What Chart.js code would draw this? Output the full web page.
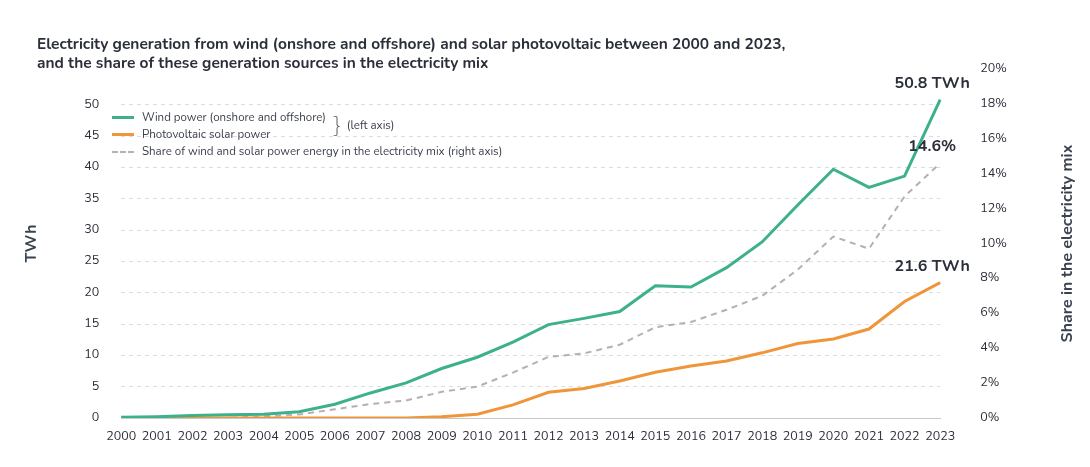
<!DOCTYPE html>
<html><head><meta charset="utf-8">
<script src="https://cdn.jsdelivr.net/npm/chart.js@4"></script>
<style>
body{margin:0;background:#fff;font-family:"Nunito","Lato","Open Sans",sans-serif;}
#wrap{position:relative;width:1090px;height:467px;}
#title{position:absolute;left:37px;top:34px;font-size:15.5px;font-weight:bold;color:#2b2f3a;line-height:19px;}
#legend{position:absolute;left:112px;top:109px;font-size:11.5px;color:#3a3f4b;line-height:17px;}
.li{display:flex;align-items:center;height:17px}
.sw{display:inline-block;width:22px;margin-right:8px;border-top:3px solid}
</style></head><body>
<div id="wrap">
<canvas id="c" width="1090" height="467"></canvas>
<div id="title">Electricity generation from wind (onshore and offshore) and solar photovoltaic between 2000 and 2023,<br>and the share of these generation sources in the electricity mix</div>
<div id="legend">
<div class="li"><span class="sw" style="border-color:#3db08e"></span>Wind power (onshore and offshore)<span style="font-size:22px;margin-left:8px;margin-top:16px;color:#555;font-weight:200">}</span><span style="margin-left:6px;margin-top:16px">(left axis)</span></div>
<div class="li"><span class="sw" style="border-color:#f0963a"></span>Photovoltaic solar power</div>
<div class="li"><span class="sw" style="border-top:2px dashed #b8aeb3"></span>Share of wind and solar power energy in the electricity mix (right axis)</div>
</div>
</div>
<script>
const years=["2000","2001","2002","2003","2004","2005","2006","2007","2008","2009","2010","2011","2012","2013","2014","2015","2016","2017","2018","2019","2020","2021","2022","2023"];
const wind=[0.1,0.2,0.4,0.5,0.6,1.0,2.2,4.0,5.6,7.9,9.7,12.1,14.9,15.9,17.0,21.1,20.9,24.0,28.1,34.0,39.7,36.8,38.6,50.8];
const solar=[0,0,0,0,0,0,0,0,0,0.2,0.6,2.1,4.1,4.7,5.9,7.3,8.3,9.1,10.4,11.9,12.6,14.2,18.6,21.6];
const share=[0,0,0,0,0.1,0.2,0.5,0.8,1.0,1.5,1.8,2.6,3.5,3.7,4.2,5.2,5.5,6.2,7.0,8.5,10.4,9.7,12.7,14.6];
const leftTicks=[0,5,10,15,20,25,30,35,40,45,50];
const FONT="'Nunito','Lato','Open Sans',sans-serif";
const labels={id:'lbl',afterDatasetsDraw(ch){const c=ch.ctx;c.save();c.font="bold 16px "+FONT;c.fillStyle="#2b2f3a";c.textAlign='center';
 const items=[[0,wind.length-1,wind[wind.length-1].toFixed(1)+' TWh',-12],[1,solar.length-1,solar[solar.length-1].toFixed(1)+' TWh',-12],[2,share.length-1,share[share.length-1].toFixed(1)+'%',-12]];
 for(const [d,i,t,dy] of items){const p=ch.getDatasetMeta(d).data[i];c.fillText(t,p.x-8,p.y+dy);}
 const a=ch.chartArea;c.translate(1068,(a.top+a.bottom)/2);c.rotate(-Math.PI/2);c.fillStyle='#3a4350';c.textBaseline='middle';c.fillText('Share in the electricity mix',0,0);
 c.restore();}};
new Chart(document.getElementById('c'),{type:'line',
data:{labels:years,datasets:[
{data:wind,borderColor:'#3db08e',borderWidth:3,pointRadius:0,tension:0,yAxisID:'y'},
{data:solar,borderColor:'#f0963a',borderWidth:3,pointRadius:0,tension:0,yAxisID:'y'},
{data:share,borderColor:'#b8aeb3',borderWidth:2,borderDash:[6,5],pointRadius:0,tension:0,yAxisID:'y1'}]},
options:{responsive:false,animation:false,
layout:{padding:{top:69,left:19,right:2,bottom:20}},
plugins:{legend:{display:false},tooltip:{enabled:false}},
scales:{
x:{offset:false,grid:{display:false},border:{color:'#c8c8c8'},ticks:{color:'#2b2f3a',font:{size:12.5,family:FONT},maxRotation:0,autoSkip:false}},
y:{position:'left',min:0,max:55.7,afterBuildTicks(s){s.ticks=leftTicks.map(v=>({value:v}));},
 grid:{color:'#dcdcdc',borderDash:[4,4],drawTicks:false},border:{display:false,dash:[4,4]},
 ticks:{color:'#2b2f3a',font:{size:12.5,family:FONT},padding:22},
 title:{display:true,text:'TWh',color:'#3a4350',font:{size:16,weight:'bold',family:FONT},padding:{bottom:20}}},
y1:{position:'right',min:0,max:20,ticks:{stepSize:2,callback:v=>v+'%',color:'#2b2f3a',font:{size:12.5,family:FONT},padding:40},
 grid:{display:false,drawTicks:false},border:{display:false},
 title:{display:true,text:'Share in the electricity mix',color:'rgba(0,0,0,0)',font:{size:16,weight:'bold',family:FONT},padding:{top:18}}}
}},plugins:[labels]});
</script></body></html>
